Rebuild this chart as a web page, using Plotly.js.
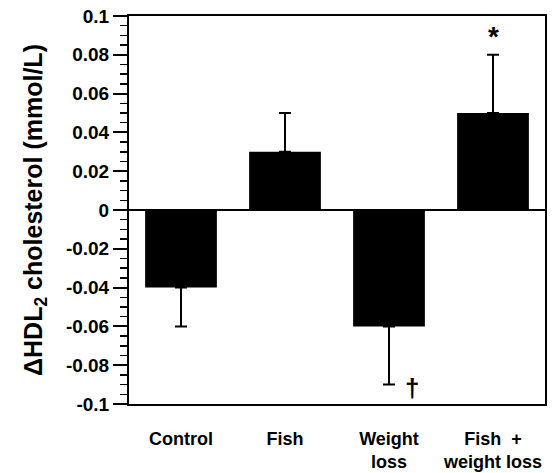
<!DOCTYPE html>
<html>
<head>
<meta charset="utf-8">
<script src="https://cdn.plot.ly/plotly-3.0.1.min.js"></script>
<style>html,body{margin:0;padding:0;background:#fff;}#chart{width:553px;height:473px;}</style>
</head>
<body>
<div id="chart"></div>
<script>
// ---- data ----
const categories = ["Control", "Fish", "Weight<br>loss", "Fish  +<br>weight loss"];
const changeHDL2 = [-0.04, 0.03, -0.06, 0.05];
const errorSE = [0.02, 0.02, 0.03, 0.03];
const significance = ["", "", "†", "*"];
const yTickVals = [0.1, 0.08, 0.06, 0.04, 0.02, 0, -0.02, -0.04, -0.06, -0.08, -0.1];
const yTickText = ["0.1", "0.08", "0.06", "0.04", "0.02", "0", "-0.02", "-0.04", "-0.06", "-0.08", "-0.1"];

// one-sided error bars pointing away from zero
const errUp = changeHDL2.map((v, i) => v >= 0 ? errorSE[i] : 0);
const errDown = changeHDL2.map((v, i) => v < 0 ? errorSE[i] : 0);

const FONT = "Liberation Sans, Arial, Helvetica, sans-serif";

const trace = {
  type: "bar",
  x: categories,
  y: changeHDL2,
  marker: {color: "#000", line: {width: 0}},
  width: 0.69,
  error_y: {
    type: "data", symmetric: false,
    array: errUp, arrayminus: errDown,
    color: "#000", thickness: 2, width: 6
  },
  hoverinfo: "skip"
};

const annotations = [];
significance.forEach((s, i) => {
  if (!s) return;
  const end = changeHDL2[i] >= 0 ? changeHDL2[i] + errorSE[i] : changeHDL2[i] - errorSE[i];
  if (changeHDL2[i] >= 0) {
    annotations.push({x: categories[i], y: end, xref: "x", yref: "y", text: "<b>" + s + "</b>",
      showarrow: false, yanchor: "bottom", yshift: 1, font: {family: FONT, size: 28, color: "#000"}});
  } else {
    annotations.push({x: categories[i], y: end, xref: "x", yref: "y", text: "<b>" + s + "</b>",
      showarrow: false, yanchor: "middle", xshift: 23, yshift: -3, font: {family: FONT, size: 26, color: "#000"}});
  }
});

const layout = {
  width: 553, height: 473,
  margin: {l: 129, r: 8, t: 16, b: 69},
  paper_bgcolor: "#fff", plot_bgcolor: "#fff",
  showlegend: false,
  font: {family: FONT, color: "#000"},
  xaxis: {
    type: "category",
    range: [-0.5, 3.5],
    showgrid: false, zeroline: false,
    showline: true, linecolor: "#000", linewidth: 2, mirror: true,
    ticks: "", ticklabelstandoff: 17,
    tickfont: {family: FONT, size: 18, color: "#000", weight: "bold"}
  },
  yaxis: {
    range: [-0.1, 0.1],
    tickmode: "array", tickvals: yTickVals, ticktext: yTickText,
    ticks: "outside", ticklen: 14, tickwidth: 2, tickcolor: "#000",
    minor: {dtick: 0.005, tick0: 0, ticks: "outside", ticklen: 7, tickwidth: 1.5, tickcolor: "#000"},
    showgrid: false,
    zeroline: true, zerolinecolor: "#000", zerolinewidth: 2,
    showline: true, linecolor: "#000", linewidth: 2, mirror: true,
    tickfont: {family: FONT, size: 19, color: "#000", weight: "bold"},
    title: {text: "ΔHDL<sub>2</sub> cholesterol (mmol/L)", standoff: 16,
      font: {family: FONT, size: 25, color: "#000", weight: "bold"}}
  },
  annotations: annotations
};

Plotly.newPlot("chart", [trace], layout, {displayModeBar: false, staticPlot: true});
</script>
</body>
</html>
